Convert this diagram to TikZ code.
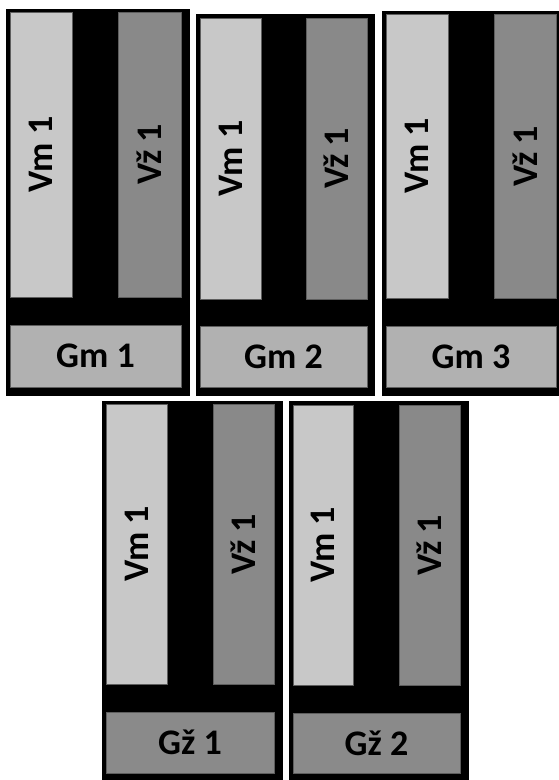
\documentclass[tikz,border=0pt]{standalone}
\usepackage{fontspec}
\setmainfont{Carlito}
\definecolor{vmcol}{HTML}{C8C8C8}
\definecolor{vzcol}{HTML}{898989}
\definecolor{gmcol}{HTML}{B1B1B1}
\definecolor{gzcol}{HTML}{8A8A8A}
\definecolor{edgecol}{HTML}{5E5E5E}
\newcommand\rbox[7]{%
  \node[#2,rectangle,inner sep=0pt,outer sep=0pt,
        minimum width={(#5)*1pt-(#3)*1pt},
        minimum height={(#6)*1pt-(#4)*1pt}] (#1) at ({(#3+#5)/2},{(#4+#6)/2}) {#7};}
\begin{document}
\begin{tikzpicture}[x=1pt,y=-1pt,
  frame/.style={fill=black,draw=none},
  vmbar/.style={fill=vmcol,draw=edgecol,line width=0.8pt},
  vzbar/.style={fill=vzcol,draw=edgecol,line width=0.8pt},
  gmbox/.style={fill=gmcol,draw=edgecol,line width=0.8pt,font=\fontsize{36}{42}\selectfont\bfseries},
  gzbox/.style={fill=gzcol,draw=edgecol,line width=0.8pt,font=\fontsize{36}{42}\selectfont\bfseries},
  vlabel/.style={rotate=90,inner sep=0pt,font=\fontsize{36}{42}\selectfont\bfseries}]
\useasboundingbox (0,0) rectangle (559,780);
% panel 1
\rbox{f1}{frame}{6}{9}{190}{396}{}
\rbox{vm1}{vmbar}{10}{12}{72}{297}{}
\rbox{vz1}{vzbar}{118}{12}{181}{297}{}
\rbox{g1}{gmbox}{10}{325}{181}{387}{Gm 1}
\node[vlabel] (vm1t) at (vm1.center) {Vm 1};
\node[vlabel] (vz1t) at (vz1.center) {Vž 1};
% panel 2
\rbox{f2}{frame}{196}{14}{375}{396}{}
\rbox{vm2}{vmbar}{200}{18}{261}{299}{}
\rbox{vz2}{vzbar}{306}{18}{367}{299}{}
\rbox{g2}{gmbox}{200}{326}{367}{387}{Gm 2}
\node[vlabel] (vm2t) at (vm2.center) {Vm 1};
\node[vlabel] (vz2t) at (vz2.center) {Vž 1};
% panel 3
\rbox{f3}{frame}{382}{11}{559}{396}{}
\rbox{vm3}{vmbar}{386}{14}{448}{298}{}
\rbox{vz3}{vzbar}{494}{14}{556}{298}{}
\rbox{g3}{gmbox}{386}{326}{556}{387}{Gm 3}
\node[vlabel] (vm3t) at (vm3.center) {Vm 1};
\node[vlabel] (vz3t) at (vz3.center) {Vž 1};
% panel 4
\rbox{f4}{frame}{102}{401}{283}{780}{}
\rbox{vm4}{vmbar}{106}{404}{167}{684}{}
\rbox{vz4}{vzbar}{213}{404}{274}{684}{}
\rbox{g4}{gzbox}{106}{712}{274}{773}{Gž 1}
\node[vlabel] (vm4t) at (vm4.center) {Vm 1};
\node[vlabel] (vz4t) at (vz4.center) {Vž 1};
% panel 5
\rbox{f5}{frame}{289}{401}{469}{780}{}
\rbox{vm5}{vmbar}{293}{405}{353}{685}{}
\rbox{vz5}{vzbar}{399}{405}{460}{685}{}
\rbox{g5}{gzbox}{293}{713}{460}{773}{Gž 2}
\node[vlabel] (vm5t) at (vm5.center) {Vm 1};
\node[vlabel] (vz5t) at (vz5.center) {Vž 1};
\end{tikzpicture}
\end{document}
